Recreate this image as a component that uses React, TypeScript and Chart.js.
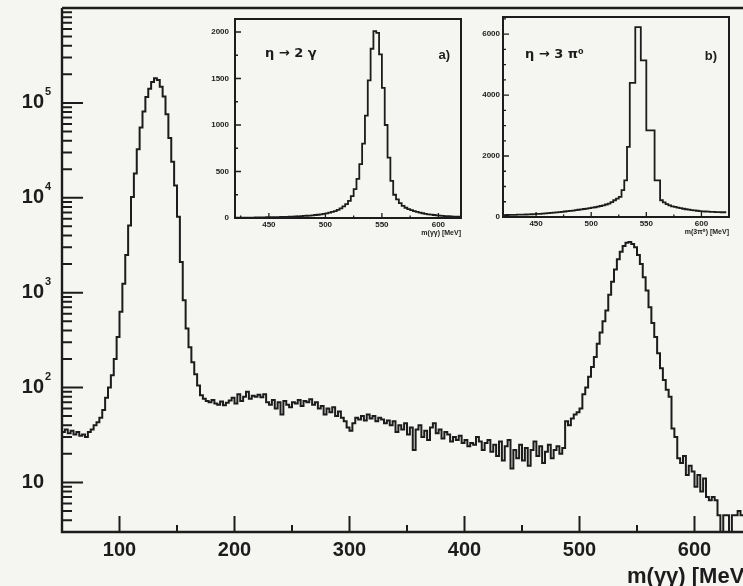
import React, { useEffect, useRef } from "react";
import { Chart, registerables } from "chart.js";

Chart.register(...registerables);

const FONT = '"Liberation Sans", "DejaVu Sans", Arial, sans-serif';
const LABEL_FONT = '"DejaVu Sans", "Liberation Sans", sans-serif';
const INK = "#1c1c1c";
const PAPER = "#f5f5f1";

// ---------------- main histogram: m(gamma gamma) ----------------
const MAIN_BIN_START = 50;
const MAIN_BIN_WIDTH = 2.5;
const MAIN_COUNTS = [
  // 50 - 97.5
  38, 34, 36, 33, 35, 32, 34, 31, 32, 30, 34, 36, 40, 43, 48, 58, 78, 100, 135, 200,
  // 100 - 147.5
  340, 630, 1240, 2500, 5100, 10200, 18000, 32500, 55000, 81000, 115000, 141000, 166000, 182000, 174000, 148000, 117000, 76000, 42600, 24000,
  // 150 - 197.5
  13500, 6300, 2100, 830, 420, 265, 185, 138, 105, 83, 76, 72, 70, 74, 68, 66, 71, 65, 69, 73,
  // 200 - 247.5
  78, 68, 85, 72, 80, 90, 76, 82, 80, 84, 79, 85, 70, 66, 74, 60, 70, 52, 72, 66,
  // 250 - 297.5
  62, 70, 68, 74, 64, 72, 70, 75, 66, 70, 60, 64, 52, 60, 55, 62, 50, 56, 48, 44,
  // 300 - 347.5
  38, 35, 42, 48, 46, 50, 45, 52, 47, 50, 44, 48, 46, 42, 45, 40, 44, 34, 40, 36,
  // 350 - 397.5
  42, 32, 38, 22, 36, 40, 30, 35, 28, 38, 42, 33, 36, 29, 34, 32, 27, 30, 28, 31,
  // 400 - 447.5
  26, 28, 24, 26, 25, 30, 27, 22, 26, 28, 21, 25, 19, 27, 17, 24, 28, 14, 22, 18,
  // 450 - 497.5
  25, 17, 23, 15, 22, 27, 19, 24, 16, 21, 25, 18, 22, 24, 20, 23, 44, 40, 47, 52,
  // 500 - 547.5
  55, 60, 85, 100, 130, 165, 210, 290, 380, 500, 650, 950, 1300, 1750, 2250, 2700, 3100, 3350, 3420, 3250,
  // 550 - 597.5
  3000, 2500, 2000, 1450, 1050, 700, 480, 340, 230, 160, 120, 95, 80, 37, 30, 18, 16, 19, 12, 15,
  // 600 - 642.5
  13, 9, 12, 8, 11, 7, 6.5, 7, 6.5, 4.5, 2.5, 4.5, 4.5, 2.5, 4.5, 4.5, 5, 4.5,
];
const MAIN_X_MIN = 50;
const MAIN_X_MAX = 650;
const MAIN_Y_MIN = 3;
const MAIN_Y_MAX = 1e6;
const MAIN_X_TICKS = [100, 200, 300, 400, 500, 600];
const MAIN_X_LABELS = ["100", "200", "300", "400", "500", "600"];
const MAIN_X_MINOR = [150, 250, 350, 450, 550, 650];
const MAIN_Y_TICKS = [10, 100, 1000, 10000, 100000];
const MAIN_Y_LABELS = ["10", "10", "10", "10", "10"];
const MAIN_Y_EXPONENTS = ["", "2", "3", "4", "5"];
const MAIN_X_TITLE = "m(γγ) [MeV]";

// ---------------- inset a: eta -> 2 gamma ----------------
const INSET_A_BIN_START = 420;
const INSET_A_BIN_WIDTH = 2.5;
const INSET_A_COUNTS = [
  3, 3, 4, 4, 4, 5, 5, 5, 6, 6, 7, 7,
  8, 8, 9, 10, 10, 11, 12, 13, 14, 15, 17, 18,
  20, 22, 24, 26, 29, 32, 35, 39, 44, 50, 57, 65,
  75, 88, 104, 124, 150, 185, 235, 310,
  420, 580, 800, 1100, 1480, 1820,
  2010, 1990,
  1760, 1400, 1000, 650, 400, 250,
  200, 160, 130, 110, 95, 84,
  75, 66, 58, 51, 45, 40,
  36, 32, 29, 26, 23, 21, 19, 17, 15, 14,
];
const INSET_A_X_TICKS = [450, 500, 550, 600];
const INSET_A_X_LABELS = ["450", "500", "550", "600"];
const INSET_A_Y_TICKS = [0, 500, 1000, 1500, 2000];
const INSET_A_Y_LABELS = ["0", "500", "1000", "1500", "2000"];
const INSET_A_TEXT = "η → 2 γ";
const INSET_A_TAG = "a)";
const INSET_A_X_TITLE = "m(γγ) [MeV]";

// ---------------- inset b: eta -> 3 pi0 ----------------
const INSET_B_BIN_START = 420;
const INSET_B_BIN_WIDTH = 2.5;
const INSET_B_COUNTS = [
  60, 62, 65, 68, 70, 72, 75, 77, 80, 82,
  85, 90, 95, 100, 105, 112, 120, 128, 135, 142,
  150, 160, 170, 180, 190, 200, 212, 225, 238, 250,
  262, 275, 290, 305, 320, 340, 360, 380, 410, 440,
  490, 550, 600, 660,
  880, 1200, 2300, 4400, 4400, 6230, 6230, 5140, 5140, 2840, 2840, 2840, 1200, 1200, 550,
  480, 420, 380, 350, 330, 310, 290, 270, 255, 240, 225, 215, 205, 195, 185, 180, 175, 170, 165, 160, 158,
  156,
];
const INSET_B_X_TICKS = [450, 500, 550, 600];
const INSET_B_X_LABELS = ["450", "500", "550", "600"];
const INSET_B_Y_TICKS = [0, 2000, 4000, 6000];
const INSET_B_Y_LABELS = ["0", "2000", "4000", "6000"];
const INSET_B_TEXT = "η → 3 π⁰";
const INSET_B_TAG = "b)";
const INSET_B_X_TITLE = "m(3π⁰) [MeV]";

// ---------------- helpers ----------------
function histPoints(start: number, width: number, counts: number[]) {
  const pts = counts.map((c, i) => ({ x: start + i * width, y: c }));
  pts.push({ x: start + counts.length * width, y: counts[counts.length - 1] });
  return pts;
}

function logMinors(min: number, max: number) {
  const out: number[] = [];
  for (let d = 1; d < max; d *= 10) {
    for (let k = 2; k <= 9; k++) {
      const v = d * k;
      if (v > min && v < max) out.push(v);
    }
  }
  return out;
}

function stepValues(min: number, max: number, step: number, skip: number[]) {
  const out: number[] = [];
  for (let v = Math.ceil(min / step) * step; v < max; v += step) {
    if (v > min && !skip.includes(v)) out.push(v);
  }
  return out;
}

function labelFor(ticks: number[], labels: string[]) {
  return (value: any) => {
    const i = ticks.indexOf(Number(value));
    return i >= 0 ? labels[i] : null;
  };
}

function fixScale(size: number, vertical: boolean) {
  return (s: any) => {
    if (vertical) s.width = size;
    else s.height = size;
    s.paddingTop = 0;
    s.paddingBottom = 0;
    s.paddingLeft = 0;
    s.paddingRight = 0;
  };
}

// ---------------- main chart ----------------
const mainDecor = {
  id: "mainDecor",
  afterDraw(chart: any) {
    const { ctx, chartArea: a } = chart;
    const xs = chart.scales.x;
    const ys = chart.scales.y;
    ctx.save();
    ctx.strokeStyle = INK;
    ctx.lineWidth = 2.4;
    ctx.beginPath();
    ctx.moveTo(a.left, a.top);
    ctx.lineTo(a.right + 30, a.top);
    ctx.moveTo(a.left, a.top);
    ctx.lineTo(a.left, a.bottom);
    ctx.lineTo(a.right + 30, a.bottom);
    ctx.stroke();

    ctx.lineWidth = 2;
    ctx.beginPath();
    const tickX = (v: number, len: number) => {
      const p = xs.getPixelForValue(v);
      ctx.moveTo(p, a.bottom);
      ctx.lineTo(p, a.bottom - len);
    };
    const tickY = (v: number, len: number) => {
      const p = ys.getPixelForValue(v);
      ctx.moveTo(a.left, p);
      ctx.lineTo(a.left + len, p);
    };
    MAIN_X_TICKS.forEach((v) => tickX(v, 16));
    MAIN_X_MINOR.forEach((v) => tickX(v, 7));
    MAIN_Y_TICKS.forEach((v) => tickY(v, 21));
    logMinors(MAIN_Y_MIN, MAIN_Y_MAX).forEach((v) => {
      if (!MAIN_Y_TICKS.includes(v)) tickY(v, 10);
    });
    ctx.stroke();

    ctx.fillStyle = INK;
    ctx.textAlign = "left";
    ctx.textBaseline = "middle";
    ctx.font = `bold 11px ${FONT}`;
    MAIN_Y_TICKS.forEach((v, i) => {
      const e = MAIN_Y_EXPONENTS[i];
      if (e) ctx.fillText(e, a.left - 17, ys.getPixelForValue(v) - 11);
    });
    ctx.font = `bold 22px ${FONT}`;
    ctx.fillText(MAIN_X_TITLE, 627, 577);
    ctx.restore();
  },
};

function mainConfig(): any {
  return {
    type: "line",
    data: {
      datasets: [
        {
          data: histPoints(MAIN_BIN_START, MAIN_BIN_WIDTH, MAIN_COUNTS),
          stepped: "after",
          borderColor: INK,
          borderWidth: 2,
          pointRadius: 0,
          fill: false,
        },
      ],
    },
    options: {
      animation: false,
      responsive: false,
      events: [],
      layout: { padding: { left: 0, top: 8, right: 18, bottom: 0 } },
      plugins: { legend: { display: false }, tooltip: { enabled: false } },
      scales: {
        x: {
          type: "linear",
          min: MAIN_X_MIN,
          max: MAIN_X_MAX,
          grid: { display: false, drawTicks: false },
          border: { display: false },
          ticks: {
            autoSkip: false,
            maxRotation: 0,
            padding: 6,
            color: INK,
            font: { family: FONT, size: 20, weight: "bold" },
            callback: labelFor(MAIN_X_TICKS, MAIN_X_LABELS),
          },
          afterBuildTicks: (s: any) => {
            s.ticks = MAIN_X_TICKS.map((v) => ({ value: v }));
          },
          afterFit: fixScale(54, false),
        },
        y: {
          type: "logarithmic",
          min: MAIN_Y_MIN,
          max: MAIN_Y_MAX,
          grid: { display: false, drawTicks: false },
          border: { display: false },
          ticks: {
            autoSkip: false,
            padding: 18,
            color: INK,
            font: { family: FONT, size: 20, weight: "bold" },
            callback: labelFor(MAIN_Y_TICKS, MAIN_Y_LABELS),
          },
          afterBuildTicks: (s: any) => {
            s.ticks = MAIN_Y_TICKS.map((v) => ({ value: v }));
          },
          afterFit: fixScale(62, true),
        },
      },
    },
    plugins: [mainDecor],
  };
}

// ---------------- inset charts ----------------
interface InsetSpec {
  start: number;
  width: number;
  counts: number[];
  xMin: number;
  xMax: number;
  yMax: number;
  xTicks: number[];
  xLabels: string[];
  xMinorStep: number;
  yTicks: number[];
  yLabels: string[];
  yMinorStep: number;
  text: string;
  tag: string;
  xTitle: string;
  yAxisWidth: number;
  xAxisHeight: number;
  padTop: number;
  padRight: number;
  yLabelPad: number;
  textDx: number;
  textDy: number;
  tagDx: number;
}

const INSET_A: InsetSpec = {
  start: INSET_A_BIN_START,
  width: INSET_A_BIN_WIDTH,
  counts: INSET_A_COUNTS,
  xMin: 420,
  xMax: 620,
  yMax: 2140,
  xTicks: INSET_A_X_TICKS,
  xLabels: INSET_A_X_LABELS,
  xMinorStep: 25,
  yTicks: INSET_A_Y_TICKS,
  yLabels: INSET_A_Y_LABELS,
  yMinorStep: 250,
  text: INSET_A_TEXT,
  tag: INSET_A_TAG,
  xTitle: INSET_A_X_TITLE,
  yAxisWidth: 45,
  xAxisHeight: 27,
  padTop: 9,
  padRight: 9,
  yLabelPad: 6,
  textDx: 30,
  textDy: 35,
  tagDx: 11,
};

const INSET_B: InsetSpec = {
  start: INSET_B_BIN_START,
  width: INSET_B_BIN_WIDTH,
  counts: INSET_B_COUNTS,
  xMin: 420,
  xMax: 625,
  yMax: 6560,
  xTicks: INSET_B_X_TICKS,
  xLabels: INSET_B_X_LABELS,
  xMinorStep: 25,
  yTicks: INSET_B_Y_TICKS,
  yLabels: INSET_B_Y_LABELS,
  yMinorStep: 500,
  text: INSET_B_TEXT,
  tag: INSET_B_TAG,
  xTitle: INSET_B_X_TITLE,
  yAxisWidth: 35,
  xAxisHeight: 28,
  padTop: 9,
  padRight: 11,
  yLabelPad: 3,
  textDx: 22,
  textDy: 38,
  tagDx: 12,
};

function insetConfig(sp: InsetSpec): any {
  const decor = {
    id: "insetDecor",
    afterDraw(chart: any) {
      const { ctx, chartArea: a } = chart;
      const xs = chart.scales.x;
      const ys = chart.scales.y;
      ctx.save();
      ctx.strokeStyle = INK;
      ctx.lineWidth = 2;
      ctx.strokeRect(a.left, a.top, a.right - a.left, a.bottom - a.top);
      ctx.lineWidth = 1.3;
      ctx.beginPath();
      const tickX = (v: number, len: number) => {
        const p = xs.getPixelForValue(v);
        ctx.moveTo(p, a.bottom);
        ctx.lineTo(p, a.bottom - len);
      };
      const tickY = (v: number, len: number) => {
        const p = ys.getPixelForValue(v);
        ctx.moveTo(a.left, p);
        ctx.lineTo(a.left + len, p);
      };
      sp.xTicks.forEach((v) => tickX(v, 5));
      stepValues(sp.xMin, sp.xMax, sp.xMinorStep, sp.xTicks).forEach((v) => tickX(v, 2.5));
      sp.yTicks.forEach((v) => {
        if (v > 0) tickY(v, 6);
      });
      stepValues(0, sp.yMax, sp.yMinorStep, sp.yTicks).forEach((v) => tickY(v, 3));
      ctx.stroke();

      ctx.fillStyle = INK;
      ctx.textBaseline = "middle";
      ctx.font = `bold 13px ${LABEL_FONT}`;
      ctx.textAlign = "left";
      ctx.fillText(sp.text, a.left + sp.textDx, a.top + sp.textDy);
      ctx.font = `bold 13px ${FONT}`;
      ctx.textAlign = "right";
      ctx.fillText(sp.tag, a.right - sp.tagDx, a.top + sp.textDy + 1);
      ctx.font = `bold 7px ${FONT}`;
      ctx.fillText(sp.xTitle, a.right, a.bottom + 15);
      ctx.restore();
    },
  };
  return {
    type: "line",
    data: {
      datasets: [
        {
          data: histPoints(sp.start, sp.width, sp.counts),
          stepped: "after",
          borderColor: INK,
          borderWidth: 1.8,
          pointRadius: 0,
          fill: false,
        },
      ],
    },
    options: {
      animation: false,
      responsive: false,
      events: [],
      layout: { padding: { left: 0, top: sp.padTop, right: sp.padRight, bottom: 0 } },
      plugins: { legend: { display: false }, tooltip: { enabled: false } },
      scales: {
        x: {
          type: "linear",
          min: sp.xMin,
          max: sp.xMax,
          grid: { display: false, drawTicks: false },
          border: { display: false },
          ticks: {
            autoSkip: false,
            maxRotation: 0,
            padding: 2,
            color: INK,
            font: { family: FONT, size: 8, weight: "bold" },
            callback: labelFor(sp.xTicks, sp.xLabels),
          },
          afterBuildTicks: (s: any) => {
            s.ticks = sp.xTicks.map((v) => ({ value: v }));
          },
          afterFit: fixScale(sp.xAxisHeight, false),
        },
        y: {
          type: "linear",
          min: 0,
          max: sp.yMax,
          grid: { display: false, drawTicks: false },
          border: { display: false },
          ticks: {
            autoSkip: false,
            padding: sp.yLabelPad,
            color: INK,
            font: { family: FONT, size: 8, weight: "bold" },
            callback: labelFor(sp.yTicks, sp.yLabels),
          },
          afterBuildTicks: (s: any) => {
            s.ticks = sp.yTicks.map((v) => ({ value: v }));
          },
          afterFit: fixScale(sp.yAxisWidth, true),
        },
      },
    },
    plugins: [decor],
  };
}

export default function App() {
  const mainRef = useRef<HTMLCanvasElement>(null);
  const aRef = useRef<HTMLCanvasElement>(null);
  const bRef = useRef<HTMLCanvasElement>(null);

  useEffect(() => {
    const charts: Chart[] = [];
    if (mainRef.current) charts.push(new Chart(mainRef.current, mainConfig()));
    if (aRef.current) charts.push(new Chart(aRef.current, insetConfig(INSET_A)));
    if (bRef.current) charts.push(new Chart(bRef.current, insetConfig(INSET_B)));
    return () => charts.forEach((c) => c.destroy());
  }, []);

  return (
    <div
      style={{
        position: "fixed",
        left: 0,
        top: 0,
        width: 743,
        height: 586,
        overflow: "hidden",
        background: PAPER,
        filter: "blur(0.45px)",
      }}
    >
      <canvas
        ref={mainRef}
        width={770}
        height={586}
        style={{ position: "absolute", left: 0, top: 0, width: 770, height: 586 }}
      />
      <canvas
        ref={aRef}
        width={280}
        height={235}
        style={{ position: "absolute", left: 190, top: 10, width: 280, height: 235 }}
      />
      <canvas
        ref={bRef}
        width={272}
        height={237}
        style={{ position: "absolute", left: 468, top: 8, width: 272, height: 237 }}
      />
    </div>
  );
}
